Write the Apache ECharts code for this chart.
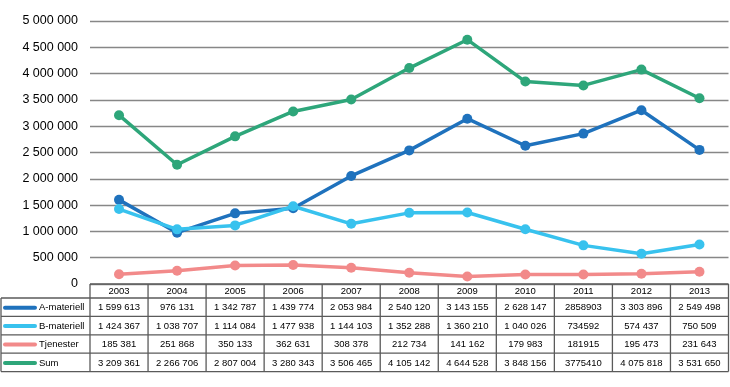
<!DOCTYPE html>
<html><head><meta charset="utf-8">
<script src="https://cdn.jsdelivr.net/npm/echarts@6/dist/echarts.min.js"></script>
<style>html,body{margin:0;padding:0;background:#fff}#c{width:730px;height:387px}</style>
</head><body><div id="c"></div>
<script>
// ---- data ----
const years = ['2003','2004','2005','2006','2007','2008','2009','2010','2011','2012','2013'];
const aMateriell = [1599613,976131,1342787,1439774,2053984,2540120,3143155,2628147,2858903,3303896,2549498];
const bMateriell = [1424367,1038707,1114084,1477938,1144103,1352288,1360210,1040026,734592,574437,750509];
const tjenester  = [185381,251868,350133,362631,308378,212734,141162,179983,181915,195473,231643];
const sumValues  = [3209361,2266706,2807004,3280343,3506465,4105142,4644528,3848156,3775410,4075818,3531650];
const seriesNames = ['A-materiell','B-materiell','Tjenester','Sum'];
const ungroupedYears = ['2011']; // table shows these columns without digit grouping
const yMin = 0, yMax = 5000000, yInterval = 500000;

// ---- style ----
const colors = ['#1f72bd','#38c2ee','#f28a8a','#2ea67a'];
const FONT = 'Arial, "Liberation Sans", sans-serif';
const gridLeft = 90, gridRight = 1.5, gridTop = 21, gridBottom = 103;
const headerH = 14, rowH = 18.4, tableLeft = 1;
const borderColor = '#5a5a5a';

function group(v){ return String(v).replace(/\B(?=(\d{3})+(?!\d))/g, ' '); }

const allData = [aMateriell, bMateriell, tjenester, sumValues];
const chart = echarts.init(document.getElementById('c'), null, {renderer:'canvas'});
chart.setOption({
  animation:false,
  backgroundColor:'#fff',
  grid:{left:gridLeft, right:gridRight, top:gridTop, bottom:gridBottom, containLabel:false},
  xAxis:{type:'category', data:years, boundaryGap:true,
    axisLine:{show:false}, axisTick:{show:false}, axisLabel:{show:false}},
  yAxis:{type:'value', min:yMin, max:yMax, interval:yInterval,
    axisLine:{show:false}, axisTick:{show:false},
    axisLabel:{formatter:v=>group(v), color:'#000', fontFamily:FONT, fontSize:12.5, margin:12},
    splitLine:{lineStyle:{color:'#878787', width:1.3}}},
  series: seriesNames.map((n,i)=>({
    name:n, type:'line', data:allData[i], symbol:'circle', symbolSize:10,
    itemStyle:{color:colors[i]}, lineStyle:{color:colors[i], width:3.5}, z:2+i
  }))
});

// ---- data table under the plot, positioned from the axis scale ----
const cx = years.map((y,i)=>chart.convertToPixel({xAxisIndex:0}, i));
const band = cx[1]-cx[0];
const yTop = chart.convertToPixel({yAxisIndex:0}, yMin);
const xLeft = cx[0]-band/2, xRight = cx[cx.length-1]+band/2;
const g = [];
const L = (x1,y1,x2,y2)=>g.push({type:'line', shape:{x1,y1,x2,y2}, style:{stroke:borderColor, lineWidth:1.3}, z:10});
const T = (x,y,text,align)=>g.push({type:'text', x, y, style:{text, fill:'#000', font:'9.5px '+FONT, align:align||'center', verticalAlign:'middle'}, z:11});
const yBottom = yTop + headerH + rowH*seriesNames.length;
L(xLeft, yTop, xRight, yTop);
L(tableLeft, yTop+headerH, xRight, yTop+headerH);
for(let r=1;r<=seriesNames.length;r++) L(tableLeft, yTop+headerH+rowH*r, xRight, yTop+headerH+rowH*r);
L(tableLeft, yTop+headerH, tableLeft, yBottom);
for(let i=0;i<=years.length;i++){ const x = xLeft + band*i; L(x, yTop, x, yBottom); }
years.forEach((y,i)=>T(cx[i], yTop+headerH/2+0.5, y));
seriesNames.forEach((n,r)=>{
  const yc = yTop+headerH+rowH*r+rowH/2+0.5;
  g.push({type:'line', shape:{x1:5,y1:yc,x2:35,y2:yc}, style:{stroke:colors[r], lineWidth:4, lineCap:'round'}, z:11});
  T(39, yc, n, 'left');
  allData[r].forEach((v,i)=>T(cx[i], yc, ungroupedYears.includes(years[i]) ? String(v) : group(v)));
});
chart.setOption({graphic:{elements:g}});
</script></body></html>
